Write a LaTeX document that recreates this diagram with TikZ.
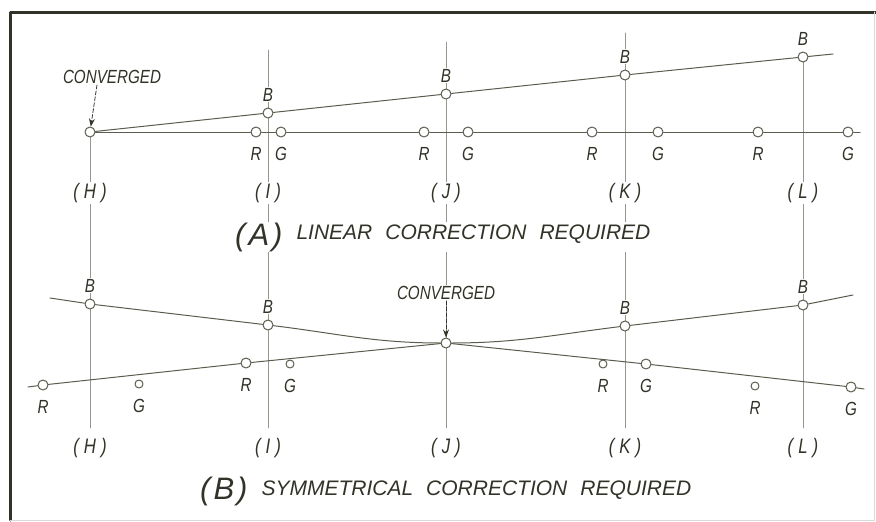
\documentclass[tikz,border=0pt]{standalone}
\usepackage{fontspec}
\newfontfamily\lettering{Liberation Sans}[FakeStretch=0.8]
\newfontfamily\titlefont{Liberation Sans}
\usetikzlibrary{arrows.meta,positioning}
\definecolor{ink}{RGB}{50,50,40}
\definecolor{tracecol}{RGB}{92,92,78}
\definecolor{guidecol}{RGB}{150,150,138}
\newcommand{\colmark}[1]{(\hspace{5pt}#1\hspace{5pt})}

\begin{document}
\begin{tikzpicture}[
  x=1pt,y=-1pt,
  text=ink,
  font=\lettering\itshape\fontsize{19}{19}\selectfont,
  pt/.style={draw=tracecol,circle,line width=1pt,fill=white,minimum size=10pt,inner sep=0pt},
  dot/.style={pt,minimum size=8pt},
  tag/.style={fill=white,inner sep=1pt},
  colname/.style={tag,font=\lettering\itshape\fontsize{21}{21}\selectfont},
  heading/.style={tag,anchor=base west,font=\titlefont\itshape\fontsize{21}{21}\selectfont},
  trace/.style={draw=tracecol,line width=1pt},
  guide/.style={draw=guidecol,line width=0.6pt},
  hint/.style={draw=ink,line width=0.8pt,dash pattern=on 4pt off 2pt,
    -{Stealth[length=8pt,width=6pt]}},
  every path/.style={line cap=round,line join=round}
]
  \useasboundingbox (0,0) rectangle (876,522);
  \draw[line width=3pt,draw=ink] (10,520) -- (10,12) -- (876,12);
  \draw[draw=black!15,line width=0.6pt] (874,12) -- (874,520) -- (10,520);

  % column lines
  \coordinate (topH) at (90,132);  \coordinate (botH) at (90,428);
  \coordinate (topI) at (268,50);  \coordinate (botI) at (268,428);
  \coordinate (topJ) at (446,42);  \coordinate (botJ) at (446,428);
  \coordinate (topK) at (625,33);  \coordinate (botK) at (625,428);
  \coordinate (topL) at (803,57);  \coordinate (botL) at (803,428);
  \draw[guide] (topH) -- (botH);
  \draw[guide] (topI) -- (botI);
  \draw[guide] (topJ) -- (botJ);
  \draw[guide] (topK) -- (botK);
  \draw[guide] (topL) -- (botL);

  % (A) linear correction
  \node[pt] (cA)  at (90,132)  {};
  \node[pt] (bAI) at (268,113) {};
  \node[pt] (bAJ) at (446,94)  {};
  \node[pt] (bAK) at (625,75)  {};
  \node[pt] (bAL) at (803,57)  {};
  \node[pt] (rAI) at (256,132) {};
  \node[pt] (gAI) at (281,132) {};
  \node[pt] (rAJ) at (424,132) {};
  \node[pt] (gAJ) at (468,132) {};
  \node[pt] (rAK) at (592,132) {};
  \node[pt] (gAK) at (658,132) {};
  \node[pt] (rAL) at (758,132) {};
  \node[pt] (gAL) at (848,132) {};
  \coordinate (endAB) at (833,54);
  \coordinate (endAR) at (860,132);
  \draw[trace] (cA) -- (bAI) -- (bAJ) -- (bAK) -- (bAL) -- (endAB);
  \draw[trace] (cA) -- (rAI) -- (gAI) -- (rAJ) -- (gAJ) -- (rAK) -- (gAK)
    -- (rAL) -- (gAL) -- (endAR);

  \node[tag] (tbAI) [above=5pt of bAI] {B};
  \node[tag] (tbAJ) [above=5pt of bAJ] {B};
  \node[tag] (tbAK) [above=5pt of bAK] {B};
  \node[tag] (tbAL) [above=5pt of bAL] {B};
  \node[tag] (trAI) [below=9pt of rAI] {R};
  \node[tag] (tgAI) [below=9pt of gAI] {G};
  \node[tag] (trAJ) [below=9pt of rAJ] {R};
  \node[tag] (tgAJ) [below=9pt of gAJ] {G};
  \node[tag] (trAK) [below=9pt of rAK] {R};
  \node[tag] (tgAK) [below=9pt of gAK] {G};
  \node[tag] (trAL) [below=9pt of rAL] {R};
  \node[tag] (tgAL) [below=9pt of gAL] {G};

  \node[tag] (convA) at (112,77) {CONVERGED};
  \draw[hint] ([xshift=-15pt]convA.south) -- (cA);

  \node[colname] (colAH) at (90,193)  {\colmark{H}};
  \node[colname] (colAI) at (268,193) {\colmark{I}};
  \node[colname] (colAJ) at (446,193) {\colmark{J}};
  \node[colname] (colAK) at (625,193) {\colmark{K}};
  \node[colname] (colAL) at (803,193) {\colmark{L}};
  \node[heading] (titleA) at (234,239)
    {\raisebox{-6pt}{\fontsize{31}{31}\selectfont(\hspace{3pt}A\hspace{3pt})}\hspace{14pt}LINEAR\hspace{13pt}CORRECTION\hspace{13pt}REQUIRED};

  % (B) symmetrical correction
  \node[pt] (cB)  at (446,343) {};
  \node[pt] (bBH) at (90,304)  {};
  \node[pt] (bBI) at (268,325) {};
  \node[pt] (bBK) at (625,326) {};
  \node[pt] (bBL) at (803,305) {};
  \node[pt] (rBH) at (43,385)  {};
  \node[pt] (rBI) at (246,363) {};
  \node[pt] (gBK) at (646,364) {};
  \node[pt] (gBL) at (851,387) {};
  \node[dot] (gBH) at (139,384) {};
  \node[dot] (gBI) at (290,364) {};
  \node[dot] (rBK) at (603,364) {};
  \node[dot] (rBL) at (755,386) {};
  \coordinate (startBB) at (50,298);
  \coordinate (endBB) at (853,295);
  \coordinate (startBR) at (28,387);
  \coordinate (endBG) at (864,389);
  \draw[trace] (startBB) -- (bBH) -- (bBI) to[out=-7,in=180] (cB)
    to[out=0,in=187] (bBK) -- (bBL) -- (endBB);
  \draw[trace] (startBR) -- (rBH) -- (rBI) -- (cB) -- (gBK) -- (gBL) -- (endBG);

  \node[tag] (tbBH) [above=5pt of bBH] {B};
  \node[tag] (tbBI) [above=5pt of bBI] {B};
  \node[tag] (tbBK) [above=5pt of bBK] {B};
  \node[tag] (tbBL) [above=5pt of bBL] {B};
  \node[tag] (trBH) [below=9pt of rBH] {R};
  \node[tag] (tgBH) [below=10pt of gBH] {G};
  \node[tag] (trBI) [below=9pt of rBI] {R};
  \node[tag] (tgBI) [below=10pt of gBI] {G};
  \node[tag] (trBK) [below=10pt of rBK] {R};
  \node[tag] (tgBK) [below=9pt of gBK] {G};
  \node[tag] (trBL) [below=10pt of rBL] {R};
  \node[tag] (tgBL) [below=9pt of gBL] {G};

  \node[tag] (convB) at (446,293) {CONVERGED};
  \draw[hint] (convB) -- (cB);

  \node[colname] (colBH) at (90,448)  {\colmark{H}};
  \node[colname] (colBI) at (268,448) {\colmark{I}};
  \node[colname] (colBJ) at (446,448) {\colmark{J}};
  \node[colname] (colBK) at (625,448) {\colmark{K}};
  \node[colname] (colBL) at (803,448) {\colmark{L}};
  \node[heading] (titleB) at (199,495)
    {\raisebox{-4pt}{\fontsize{31}{31}\selectfont(\hspace{3pt}B\hspace{3pt})}\hspace{14pt}SYMMETRICAL\hspace{13pt}CORRECTION\hspace{13pt}REQUIRED};
\end{tikzpicture}
\end{document}
